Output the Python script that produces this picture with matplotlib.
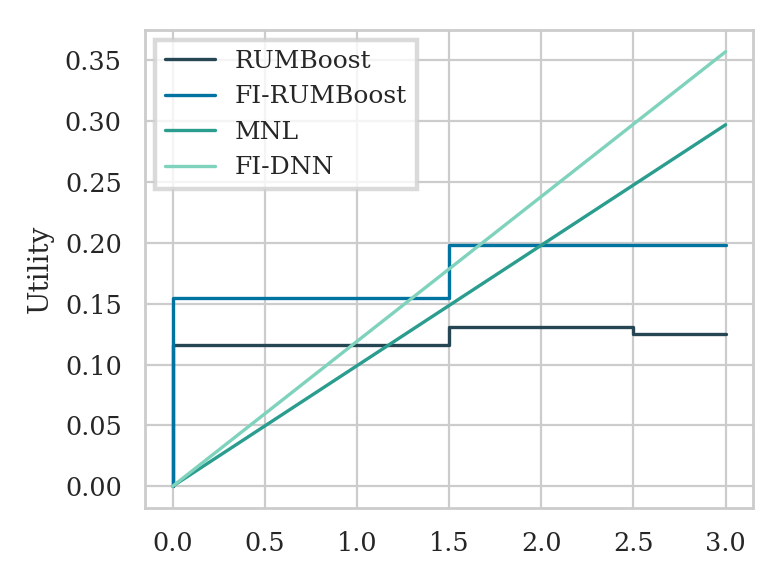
import matplotlib
matplotlib.use("Agg")
import matplotlib.pyplot as plt
import seaborn as sns

sns.set_theme(context="paper", style="whitegrid")
plt.rcParams["font.family"] = ["DejaVu Serif"]

# step functions (breakpoints, utility values)
rumboost_x = [0.0, 0.005, 1.5, 2.5, 3.0]
rumboost_y = [0.0, 0.116, 0.131, 0.125, 0.125]
fi_rumboost_x = [0.0, 0.005, 1.5, 3.0]
fi_rumboost_y = [0.0, 0.155, 0.198, 0.198]
# linear models
mnl_x = [0.0, 3.0]
mnl_y = [0.0, 0.297]
fidnn_x = [0.0, 3.0]
fidnn_y = [0.0, 0.357]

colors = ["#264653", "#0073a0", "#2a9d8f", "#7fd3bd"]

fig, ax = plt.subplots(figsize=(3.915, 2.94), dpi=200)
ax.plot(rumboost_x, rumboost_y, drawstyle="steps-post", color=colors[0], label="RUMBoost")
ax.plot(fi_rumboost_x, fi_rumboost_y, drawstyle="steps-post", color=colors[1], label="FI-RUMBoost")
ax.plot(mnl_x, mnl_y, color=colors[2], label="MNL")
ax.plot(fidnn_x, fidnn_y, color=colors[3], label="FI-DNN")

ax.set_ylabel("Utility", fontsize=10.1)
ax.tick_params(labelsize=9.2)
leg = ax.legend(loc="upper left", fancybox=False, fontsize=9, borderaxespad=0.4)
leg.get_frame().set_linewidth(1.6)
leg.get_frame().set_edgecolor("0.82")
fig.subplots_adjust(left=0.185, right=0.962, top=0.949, bottom=0.136)
fig.savefig("out.png")
